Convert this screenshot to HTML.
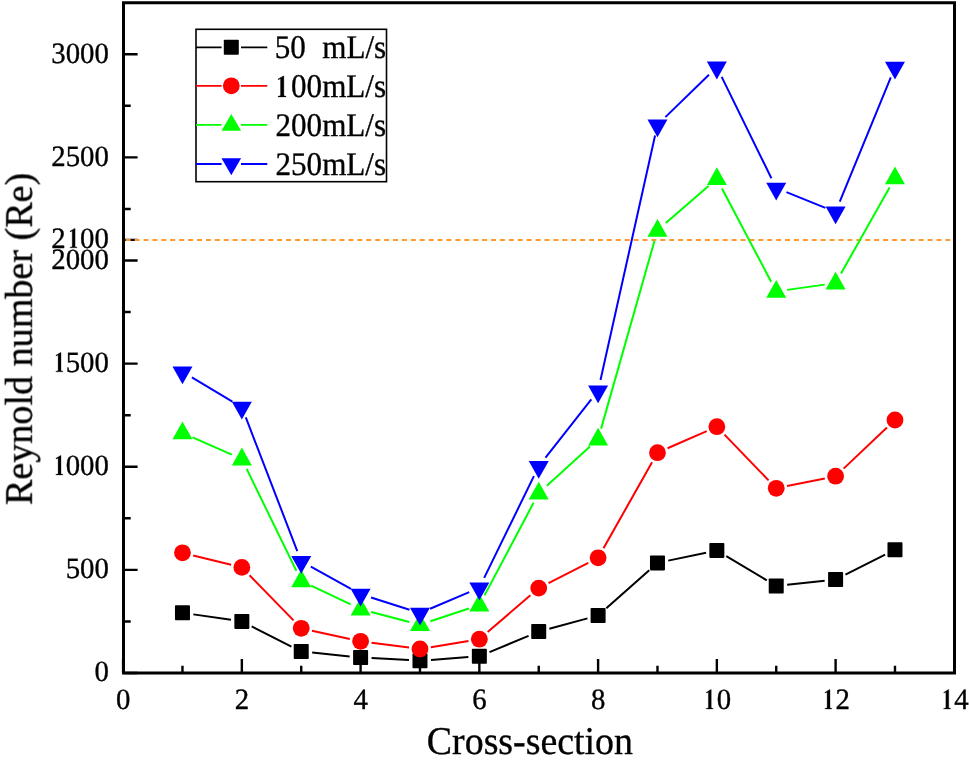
<!DOCTYPE html>
<html><head><meta charset="utf-8"><style>
html,body{margin:0;padding:0;background:#fff;}
svg{display:block;}
text{font-family:"Liberation Serif",serif;font-size:29.5px;fill:#000;stroke:#000;stroke-width:0.35px;text-rendering:geometricPrecision;}
.tx{opacity:0.999;}
</style></head><body>
<svg width="969" height="766" viewBox="0 0 969 766">
<path d="M123.5 1.5V674.5M122 673H956M954.5 1.5V674.5M122 2.75H956" stroke="#000" stroke-width="3" fill="none"/><path d="M123.5 673.00H137.6M123.5 569.88H137.6M123.5 466.75H137.6M123.5 363.62H137.6M123.5 260.50H137.6M123.5 157.38H137.6M123.5 54.25H137.6M123.5 239.88H137.6M123.5 621.44H130.7M123.5 518.31H130.7M123.5 415.19H130.7M123.5 312.06H130.7M123.5 208.94H130.7M123.5 105.81H130.7M123.10 673V659.1M241.85 673V659.1M360.60 673V659.1M479.35 673V659.1M598.10 673V659.1M716.85 673V659.1M835.60 673V659.1M954.35 673V659.1M182.47 673V665.7M301.23 673V665.7M419.98 673V665.7M538.73 673V665.7M657.48 673V665.7M776.23 673V665.7M894.98 673V665.7" stroke="#000" stroke-width="2.4" fill="none"/>
<line x1="125.7" y1="239.9" x2="950.2" y2="239.9" stroke="#ff9933" stroke-width="2" stroke-dasharray="5 3.91"/>
<path d="M193.36 614.38L230.96 619.82M251.66 626.37L291.41 646.53M312.17 652.61L349.66 656.39M371.58 658.09L408.99 660.11M430.94 659.89L468.38 657.11M489.51 652.08L528.57 635.82M549.34 628.72L587.48 618.38M606.33 608.21L649.24 570.19M668.24 560.63L706.09 552.67M726.28 556.06L766.79 580.34M787.16 584.80L824.67 580.70M845.44 574.58L885.14 554.72" stroke="#000" stroke-width="2.0" fill="none" stroke-linecap="butt"/><path d="M193.16 555.43L231.17 564.77M249.53 575.28L293.55 620.42M311.97 630.65L349.85 638.95M371.51 642.71L409.07 647.59M430.83 647.21L468.50 640.99M487.69 632.02L530.39 595.28M548.52 583.10L588.30 562.80M603.51 548.22L652.06 462.28M667.55 448.29L706.77 431.11M724.48 434.62L768.59 480.38M787.00 486.10L824.82 478.40M843.59 468.64L886.99 427.56" stroke="#f00" stroke-width="2.0" fill="none" stroke-linecap="butt"/><path d="M192.55 437.33L231.78 454.57M246.67 468.89L296.40 570.91M311.15 585.55L350.68 604.45M371.24 611.98L409.33 621.92M430.42 621.25L468.90 608.55M484.50 595.38L533.57 502.82M546.87 485.71L589.96 446.59M601.11 428.62L654.47 240.88M665.78 223.08L708.55 185.92M721.98 188.43L771.10 281.67M787.12 289.88L824.71 284.62M841.01 273.52L889.57 187.48" stroke="#0f0" stroke-width="2.0" fill="none" stroke-linecap="butt"/><path d="M191.92 377.43L232.40 401.57M245.80 417.46L297.27 551.04M310.85 566.63L350.98 588.87M371.08 597.54L409.49 609.76M430.09 608.79L469.23 592.11M484.18 577.92L533.90 476.18M545.52 457.65L591.30 399.45M600.50 380.06L655.08 135.54M665.36 117.13L708.97 74.67M721.69 76.88L771.38 178.22M786.44 192.19L825.39 207.81M839.77 201.72L890.80 77.28" stroke="#00f" stroke-width="2.0" fill="none" stroke-linecap="butt"/><rect x="174.97" y="605.30" width="15.0" height="15.0" rx="0.8" fill="#000"/><rect x="234.35" y="613.90" width="15.0" height="15.0" rx="0.8" fill="#000"/><rect x="293.73" y="644.00" width="15.0" height="15.0" rx="0.8" fill="#000"/><rect x="353.10" y="650.00" width="15.0" height="15.0" rx="0.8" fill="#000"/><rect x="412.48" y="653.20" width="15.0" height="15.0" rx="0.8" fill="#000"/><rect x="471.85" y="648.80" width="15.0" height="15.0" rx="0.8" fill="#000"/><rect x="531.23" y="624.10" width="15.0" height="15.0" rx="0.8" fill="#000"/><rect x="590.60" y="608.00" width="15.0" height="15.0" rx="0.8" fill="#000"/><rect x="649.98" y="555.40" width="15.0" height="15.0" rx="0.8" fill="#000"/><rect x="709.35" y="542.90" width="15.0" height="15.0" rx="0.8" fill="#000"/><rect x="768.73" y="578.50" width="15.0" height="15.0" rx="0.8" fill="#000"/><rect x="828.10" y="572.00" width="15.0" height="15.0" rx="0.8" fill="#000"/><rect x="887.48" y="542.30" width="15.0" height="15.0" rx="0.8" fill="#000"/><circle cx="182.47" cy="552.80" r="8.4" fill="#f00"/><circle cx="241.85" cy="567.40" r="8.4" fill="#f00"/><circle cx="301.23" cy="628.30" r="8.4" fill="#f00"/><circle cx="360.60" cy="641.30" r="8.4" fill="#f00"/><circle cx="419.98" cy="649.00" r="8.4" fill="#f00"/><circle cx="479.35" cy="639.20" r="8.4" fill="#f00"/><circle cx="538.73" cy="588.10" r="8.4" fill="#f00"/><circle cx="598.10" cy="557.80" r="8.4" fill="#f00"/><circle cx="657.48" cy="452.70" r="8.4" fill="#f00"/><circle cx="716.85" cy="426.70" r="8.4" fill="#f00"/><circle cx="776.23" cy="488.30" r="8.4" fill="#f00"/><circle cx="835.60" cy="476.20" r="8.4" fill="#f00"/><circle cx="894.98" cy="420.00" r="8.4" fill="#f00"/><path d="M182.47 421.50L192.47 439.30L172.47 439.30Z" fill="#0f0"/><path d="M241.85 447.60L251.85 465.40L231.85 465.40Z" fill="#0f0"/><path d="M301.23 569.40L311.23 587.20L291.23 587.20Z" fill="#0f0"/><path d="M360.60 597.80L370.60 615.60L350.60 615.60Z" fill="#0f0"/><path d="M419.98 613.30L429.98 631.10L409.98 631.10Z" fill="#0f0"/><path d="M479.35 593.70L489.35 611.50L469.35 611.50Z" fill="#0f0"/><path d="M538.73 481.70L548.73 499.50L528.73 499.50Z" fill="#0f0"/><path d="M598.10 427.80L608.10 445.60L588.10 445.60Z" fill="#0f0"/><path d="M657.48 218.90L667.48 236.70L647.48 236.70Z" fill="#0f0"/><path d="M716.85 167.30L726.85 185.10L706.85 185.10Z" fill="#0f0"/><path d="M776.23 280.00L786.23 297.80L766.23 297.80Z" fill="#0f0"/><path d="M835.60 271.70L845.60 289.50L825.60 289.50Z" fill="#0f0"/><path d="M894.98 166.50L904.98 184.30L884.98 184.30Z" fill="#0f0"/><path d="M182.47 384.20L192.47 366.40L172.47 366.40Z" fill="#00f"/><path d="M241.85 419.60L251.85 401.80L231.85 401.80Z" fill="#00f"/><path d="M301.23 573.70L311.23 555.90L291.23 555.90Z" fill="#00f"/><path d="M360.60 606.60L370.60 588.80L350.60 588.80Z" fill="#00f"/><path d="M419.98 625.50L429.98 607.70L409.98 607.70Z" fill="#00f"/><path d="M479.35 600.20L489.35 582.40L469.35 582.40Z" fill="#00f"/><path d="M538.73 478.70L548.73 460.90L528.73 460.90Z" fill="#00f"/><path d="M598.10 403.20L608.10 385.40L588.10 385.40Z" fill="#00f"/><path d="M657.48 137.20L667.48 119.40L647.48 119.40Z" fill="#00f"/><path d="M716.85 79.40L726.85 61.60L706.85 61.60Z" fill="#00f"/><path d="M776.23 200.50L786.23 182.70L766.23 182.70Z" fill="#00f"/><path d="M835.60 224.30L845.60 206.50L825.60 206.50Z" fill="#00f"/><path d="M894.98 79.50L904.98 61.70L884.98 61.70Z" fill="#00f"/>
<g class="tx"><text x="0" y="0" transform="translate(108.9 681.30) scale(0.9762711864406779 1)" text-anchor="end">0</text><text x="0" y="0" transform="translate(108.9 578.17) scale(0.9762711864406779 1)" text-anchor="end">500</text><text x="0" y="0" transform="translate(108.9 475.05) scale(0.9762711864406779 1)" text-anchor="end">000</text><path transform="translate(55.90 474.95) scale(1.0 1.0)" d="M0 0L7.0 0L7.0 -0.6C5.5 -0.7 5.1 -1.0 5.1 -2.0L5.1 -19.4L4.6 -19.4L0 -16.6L0.25 -15.9L2.2 -16.8L2.2 -2.0C2.2 -1.0 1.7 -0.7 0 -0.6Z" fill="#000" stroke="#000" stroke-width="0.3"/><text x="0" y="0" transform="translate(108.9 371.93) scale(0.9762711864406779 1)" text-anchor="end">500</text><path transform="translate(55.90 371.82) scale(1.0 1.0)" d="M0 0L7.0 0L7.0 -0.6C5.5 -0.7 5.1 -1.0 5.1 -2.0L5.1 -19.4L4.6 -19.4L0 -16.6L0.25 -15.9L2.2 -16.8L2.2 -2.0C2.2 -1.0 1.7 -0.7 0 -0.6Z" fill="#000" stroke="#000" stroke-width="0.3"/><text x="0" y="0" transform="translate(108.9 268.80) scale(0.9762711864406779 1)" text-anchor="end">2000</text><text x="0" y="0" transform="translate(108.9 165.68) scale(0.9762711864406779 1)" text-anchor="end">2500</text><text x="0" y="0" transform="translate(108.9 62.55) scale(0.9762711864406779 1)" text-anchor="end">3000</text><text x="0" y="0" transform="translate(51.30 248.0) scale(0.9762711864406779 1)">2</text><text x="0" y="0" transform="translate(108.9 248.00) scale(0.9762711864406779 1)" text-anchor="end">00</text><path transform="translate(70.00 247.80) scale(1.0 1.0)" d="M0 0L7.0 0L7.0 -0.6C5.5 -0.7 5.1 -1.0 5.1 -2.0L5.1 -19.4L4.6 -19.4L0 -16.6L0.25 -15.9L2.2 -16.8L2.2 -2.0C2.2 -1.0 1.7 -0.7 0 -0.6Z" fill="#000" stroke="#000" stroke-width="0.3"/><text x="0" y="0" transform="translate(123.10 709.0) scale(0.9762711864406779 1)" text-anchor="middle">0</text><text x="0" y="0" transform="translate(241.85 709.0) scale(0.9762711864406779 1)" text-anchor="middle">2</text><text x="0" y="0" transform="translate(360.60 709.0) scale(0.9762711864406779 1)" text-anchor="middle">4</text><text x="0" y="0" transform="translate(479.35 709.0) scale(0.9762711864406779 1)" text-anchor="middle">6</text><text x="0" y="0" transform="translate(598.10 709.0) scale(0.9762711864406779 1)" text-anchor="middle">8</text><text x="0" y="0" transform="translate(716.85 709.0) scale(0.9762711864406779 1)">0</text><path transform="translate(706.15 709.00) scale(1.0 1.0)" d="M0 0L7.0 0L7.0 -0.6C5.5 -0.7 5.1 -1.0 5.1 -2.0L5.1 -19.4L4.6 -19.4L0 -16.6L0.25 -15.9L2.2 -16.8L2.2 -2.0C2.2 -1.0 1.7 -0.7 0 -0.6Z" fill="#000" stroke="#000" stroke-width="0.3"/><text x="0" y="0" transform="translate(835.60 709.0) scale(0.9762711864406779 1)">2</text><path transform="translate(824.90 709.00) scale(1.0 1.0)" d="M0 0L7.0 0L7.0 -0.6C5.5 -0.7 5.1 -1.0 5.1 -2.0L5.1 -19.4L4.6 -19.4L0 -16.6L0.25 -15.9L2.2 -16.8L2.2 -2.0C2.2 -1.0 1.7 -0.7 0 -0.6Z" fill="#000" stroke="#000" stroke-width="0.3"/><text x="0" y="0" transform="translate(954.35 709.0) scale(0.9762711864406779 1)">4</text><path transform="translate(943.65 709.00) scale(1.0 1.0)" d="M0 0L7.0 0L7.0 -0.6C5.5 -0.7 5.1 -1.0 5.1 -2.0L5.1 -19.4L4.6 -19.4L0 -16.6L0.25 -15.9L2.2 -16.8L2.2 -2.0C2.2 -1.0 1.7 -0.7 0 -0.6Z" fill="#000" stroke="#000" stroke-width="0.3"/>
<text x="0" y="0" transform="translate(529.9 754.3) scale(0.9634 1)" text-anchor="middle" style="font-size:39.3px">Cross-section</text><text x="0" y="0" transform="translate(31.8 338.9) rotate(-90) scale(0.9797 1)" text-anchor="middle" style="font-size:38.9px">Reynold number (Re)</text>
<rect x="196" y="29.3" width="190.5" height="152.4" fill="none" stroke="#000" stroke-width="1.6"/><path d="M196 47.3H221.6M241 47.3H267.3" stroke="#000" stroke-width="1.8" fill="none"/><rect x="223.80" y="39.80" width="15.0" height="15.0" rx="0.8" fill="#000"/><text x="0" y="0" transform="translate(274.7 58.40) scale(0.942 1)" style="font-size:33px">50</text><text x="0" y="0" transform="translate(322.3 58.40) scale(0.942 1)" style="font-size:33px">mL/s</text><path d="M196 85.8H221.6M241 85.8H267.3" stroke="#f00" stroke-width="1.8" fill="none"/><circle cx="231.30" cy="85.80" r="8.4" fill="#f00"/><text x="0" y="0" transform="translate(291.04 96.90) scale(0.942 1)" style="font-size:33px">00mL/s</text><path transform="translate(278.00 96.90) scale(1.15 1.075)" d="M0 0L7.0 0L7.0 -0.6C5.5 -0.7 5.1 -1.0 5.1 -2.0L5.1 -19.4L4.6 -19.4L0 -16.6L0.25 -15.9L2.2 -16.8L2.2 -2.0C2.2 -1.0 1.7 -0.7 0 -0.6Z" fill="#000" stroke="#000" stroke-width="0.3"/><path d="M196 124.8H221.6M241 124.8H267.3" stroke="#0f0" stroke-width="1.8" fill="none"/><path d="M231.30 113.90L241.10 130.70L221.50 130.70Z" fill="#0f0"/><text x="0" y="0" transform="translate(275.5 135.90) scale(0.942 1)" style="font-size:33px">200mL/s</text><path d="M196 164.0H221.6M241 164.0H267.3" stroke="#00f" stroke-width="1.8" fill="none"/><path d="M231.30 175.20L241.10 158.20L221.50 158.20Z" fill="#00f"/><text x="0" y="0" transform="translate(275.5 175.10) scale(0.942 1)" style="font-size:33px">250mL/s</text></g>
</svg>
</body></html>
